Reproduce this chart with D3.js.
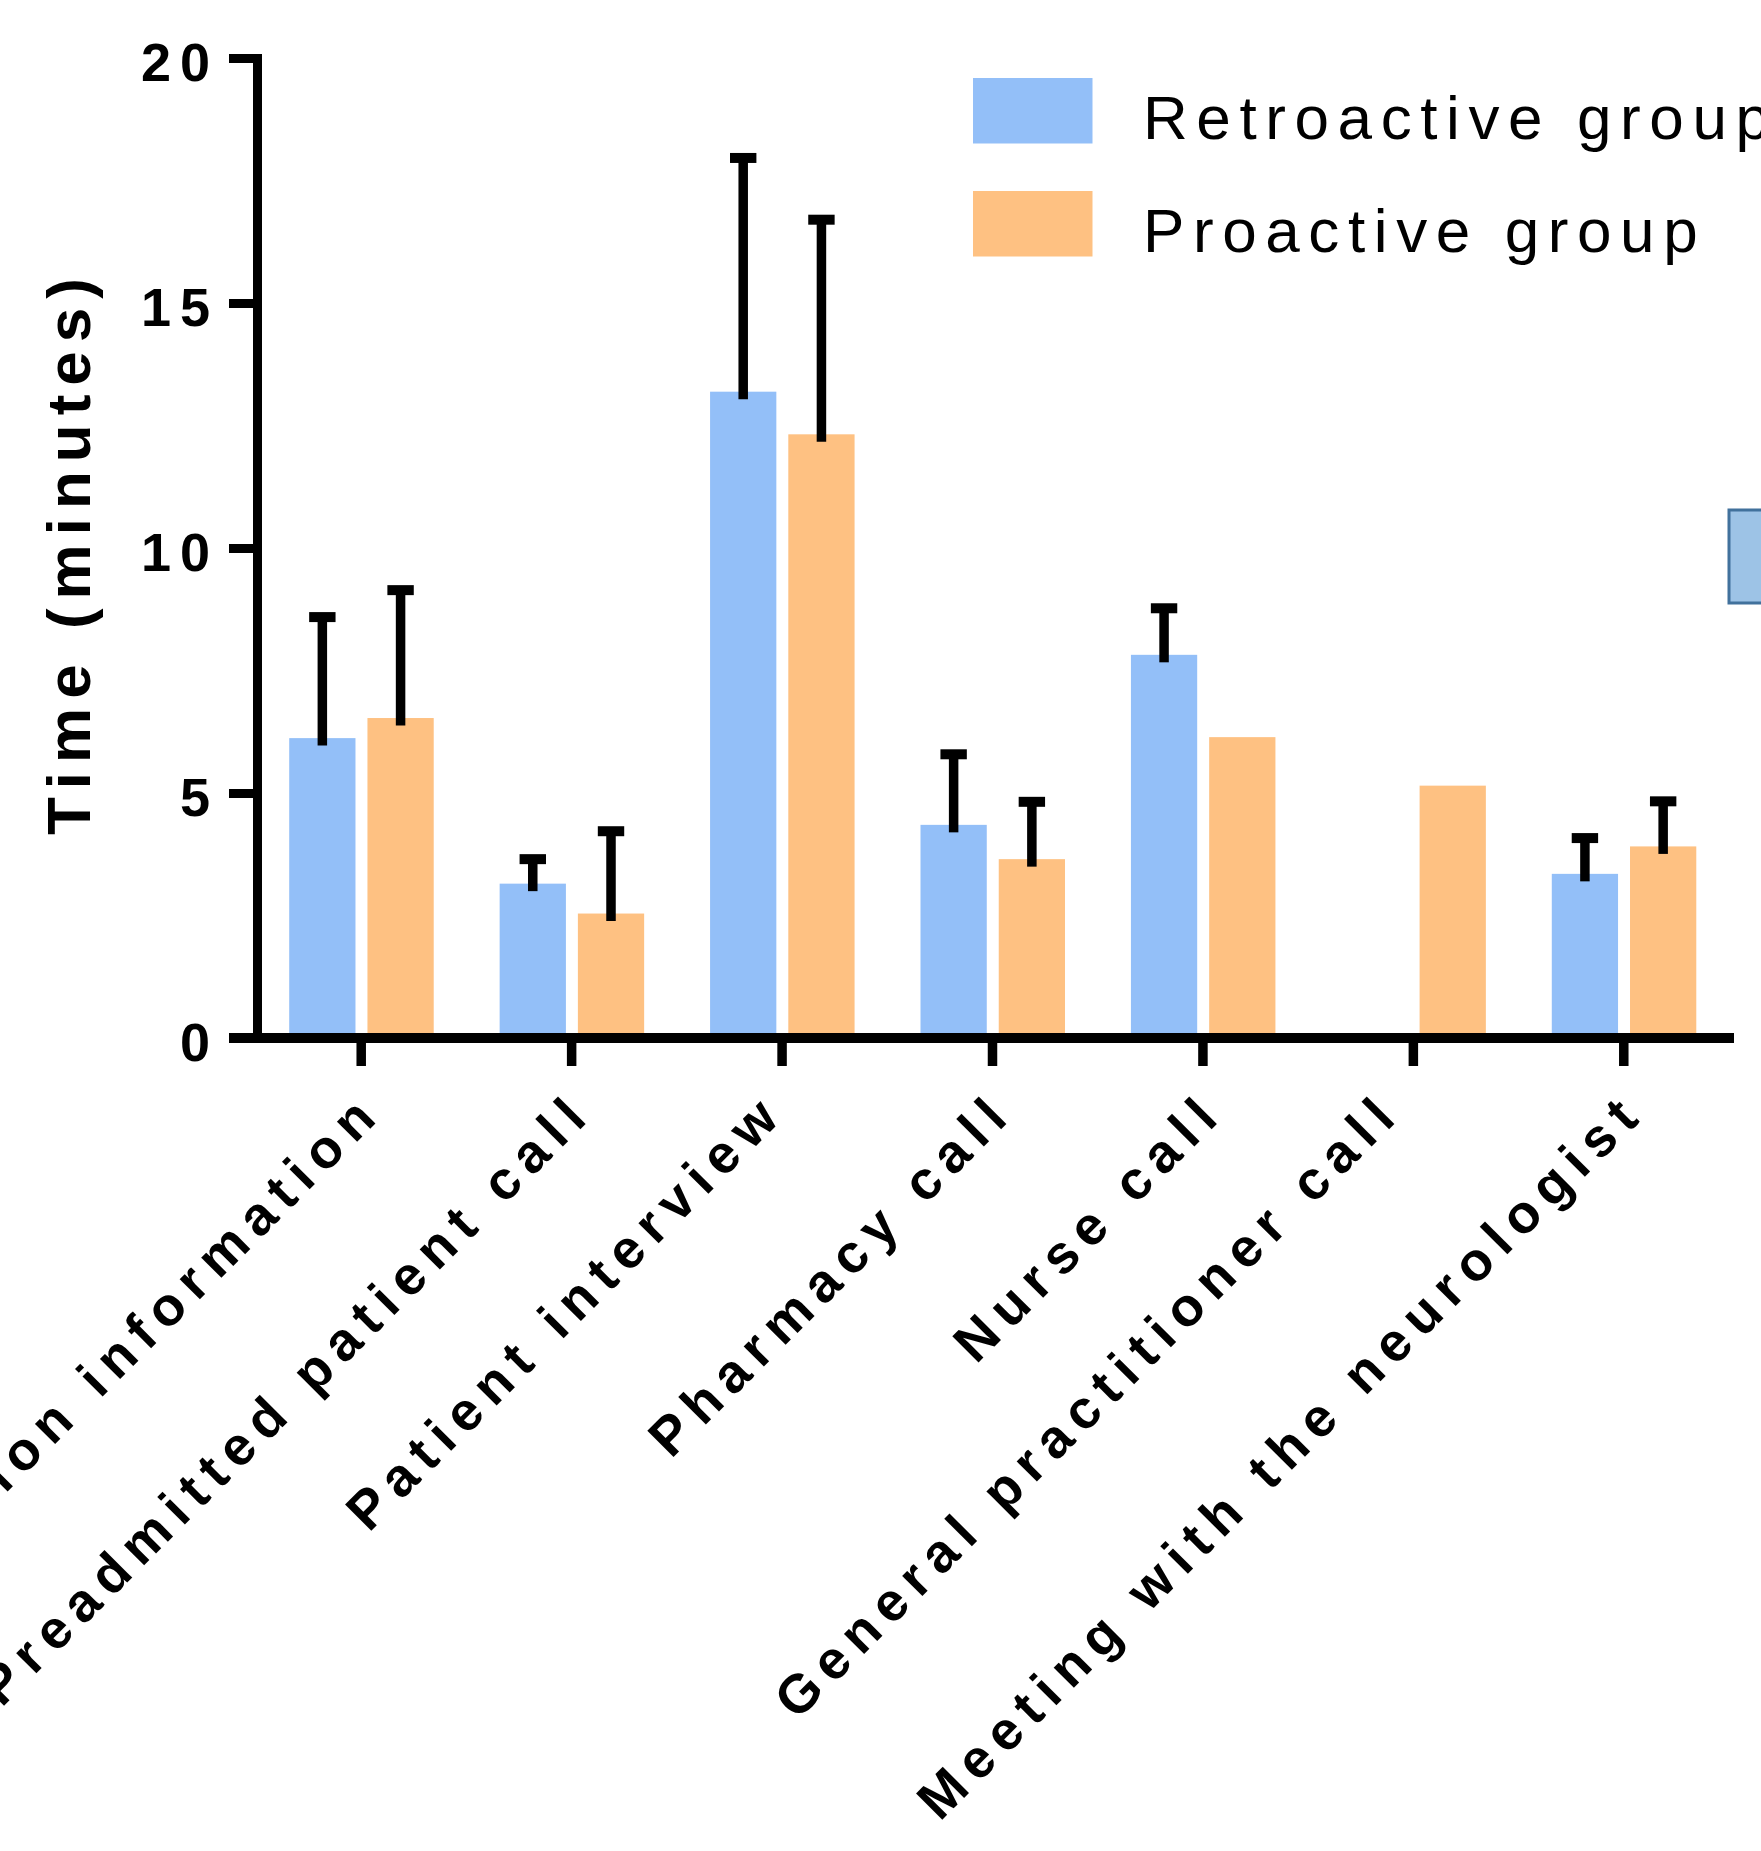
<!DOCTYPE html>
<html>
<head>
<meta charset="utf-8">
<script src="https://cdn.jsdelivr.net/npm/d3@7"></script>
<style>
  html, body { margin: 0; padding: 0; background: #ffffff; }
  svg { display: block; }
  text { font-family: "Liberation Sans", Arial, sans-serif; fill: #000; }
</style>
</head>
<body>
<script>
// Time spent per task (minutes), mean and SD for each group
const categories = [
  "Medication information",
  "Preadmitted patient call",
  "Patient interview",
  "Pharmacy call",
  "Nurse call",
  "General practitioner call",
  "Meeting with the neurologist"
];
const seriesNames = ["Retroactive group", "Proactive group"];
const retroMean = [6.12, 3.15, 13.19, 4.35, 7.82, null, 3.35];
const retroSD   = [2.47, 0.50, 4.77, 1.44, 0.95, null, 0.73];
const proMean   = [6.53, 2.54, 12.32, 3.65, 6.14, 5.15, 3.91];
const proSD     = [2.61, 1.68, 4.38, 1.17, null, null, 0.92];
const yTicks = [0, 5, 10, 15, 20];
const yTitle = "Time (minutes)";

// ---- layout ----
const W = 1761, H = 1851;
const colors = { "Retroactive group": "#93bff8", "Proactive group": "#fec182" };
const tickLabelNudgeX = { "Patient interview": -18, "General practitioner call": -33 };

const svg = d3.select("body").append("svg")
  .attr("width", W).attr("height", H)
  .attr("viewBox", `0 0 ${W} ${H}`);

const y = d3.scaleLinear().domain([0, 20]).range([1038, 58]);
const x = d3.scaleBand().domain(categories).range([256, 1729]).padding(0);
const xs = d3.scaleBand().domain(seriesNames).range([-72, 72.5]).paddingInner(0.153);

const rows = [];
categories.forEach((c, i) => {
  rows.push({ cat: c, series: seriesNames[0], mean: retroMean[i], sd: retroSD[i] });
  rows.push({ cat: c, series: seriesNames[1], mean: proMean[i], sd: proSD[i] });
});
const barX = d => x(d.cat) + x.bandwidth() / 2 + xs(d.series);

// bars
svg.append("g").selectAll("rect")
  .data(rows.filter(d => d.mean != null))
  .join("rect")
  .attr("x", barX)
  .attr("width", xs.bandwidth())
  .attr("y", d => y(d.mean))
  .attr("height", d => y(0) - y(d.mean))
  .attr("fill", d => colors[d.series]);

// error bars (upper whisker only)
const eb = svg.append("g").selectAll("g")
  .data(rows.filter(d => d.mean != null && d.sd != null))
  .join("g")
  .attr("transform", d => `translate(${barX(d) + xs.bandwidth() / 2},0)`);
eb.append("line")
  .attr("x1", 0).attr("x2", 0)
  .attr("y1", d => y(d.mean) + 7.5)
  .attr("y2", d => y(d.mean + d.sd))
  .attr("stroke", "#000").attr("stroke-width", 9.5);
eb.append("line")
  .attr("x1", -13.2).attr("x2", 13.2)
  .attr("y1", d => y(d.mean + d.sd))
  .attr("y2", d => y(d.mean + d.sd))
  .attr("stroke", "#000").attr("stroke-width", 10);

// y axis
const yAxis = svg.append("g")
  .attr("transform", "translate(257,0)")
  .call(d3.axisLeft(y).tickValues(yTicks).tickSize(28).tickSizeOuter(0).tickPadding(10).tickFormat(d3.format("d")));
yAxis.select(".domain").attr("stroke", "#000").attr("stroke-width", 9).attr("stroke-linecap", "square");
yAxis.selectAll(".tick line").attr("stroke", "#000").attr("stroke-width", 9);
yAxis.selectAll(".tick text")
  .attr("dy", "0.425em")
  .style("font-size", "54px").style("font-weight", "bold").style("letter-spacing", "9px")
  .attr("font-family", null);

// x axis
const xAxis = svg.append("g")
  .attr("transform", "translate(0,1038)")
  .call(d3.axisBottom(x).tickSize(28).tickSizeOuter(0));
xAxis.select(".domain").remove();
xAxis.selectAll(".tick line").attr("stroke", "#000").attr("stroke-width", 9.5);
xAxis.selectAll(".tick text")
  .attr("y", 0).attr("dy", 0)
  .attr("text-anchor", "end")
  .attr("transform", d => `translate(${23.5 + (tickLabelNudgeX[d] || 0)},76.5) rotate(-45)`)
  .style("font-size", "54px").style("font-weight", "bold").style("letter-spacing", "9.6px")
  .attr("font-family", null);
svg.append("path")
  .attr("d", d3.line()([[229, 1038], [1734, 1038]]))
  .attr("stroke", "#000").attr("stroke-width", 10).attr("fill", "none");

// y title
svg.append("text")
  .attr("transform", "translate(90,552) rotate(-90)")
  .attr("text-anchor", "middle")
  .style("font-size", "62px").style("font-weight", "bold").style("letter-spacing", "9px")
  .text(yTitle);

// legend
const legend = svg.append("g").selectAll("g")
  .data(seriesNames)
  .join("g")
  .attr("transform", (d, i) => `translate(973,${78 + i * 113})`);
legend.append("rect")
  .attr("width", 119.5).attr("height", 65.5)
  .attr("fill", d => colors[d]);
legend.append("text")
  .attr("x", 170).attr("y", 60.5)
  .style("font-size", "62px").style("letter-spacing", "8.6px")
  .text(d => d);

// small framed swatch at the right margin
svg.append("rect")
  .attr("x", 1729).attr("y", 510).attr("width", 40).attr("height", 93)
  .attr("fill", "#9dc3e6").attr("stroke", "#41719c").attr("stroke-width", 3);
</script>
</body>
</html>
